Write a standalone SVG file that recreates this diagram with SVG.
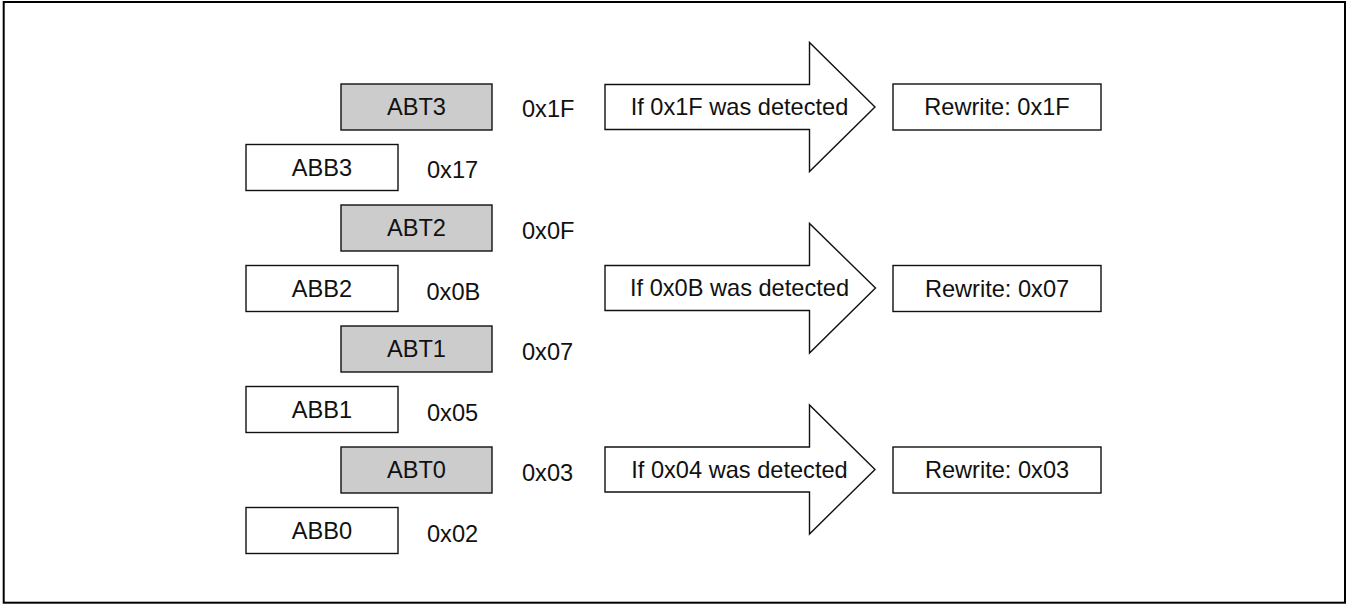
<svg xmlns="http://www.w3.org/2000/svg" width="1351" height="604" viewBox="0 0 1351 604">
<style>
  .t { font-family: "Liberation Sans", Arial, sans-serif; font-size: 23.6px; fill: #111; }
  .c { text-anchor: middle; }
  .box { fill: #ffffff; stroke: #111; stroke-width: 1.4; }
  .gbox { fill: #cccccc; stroke: #111; stroke-width: 1.4; }
  .arrow { fill: #ffffff; stroke: #111; stroke-width: 1.4; stroke-linejoin: miter; }
</style>
<rect x="3.7" y="2" width="1341.3" height="600.7" fill="#ffffff" stroke="#000" stroke-width="2"/>

<g id="ABT3"><rect class="gbox" x="341" y="84" width="151" height="46"/><text class="t c" x="416.5" y="115">ABT3</text></g>
<g id="ABB3"><rect class="box" x="246" y="144.5" width="152" height="46"/><text class="t c" x="322" y="175.5">ABB3</text></g>
<g id="ABT2"><rect class="gbox" x="341" y="205" width="151" height="46"/><text class="t c" x="416.5" y="236">ABT2</text></g>
<g id="ABB2"><rect class="box" x="246" y="265.5" width="152" height="46"/><text class="t c" x="322" y="296.5">ABB2</text></g>
<g id="ABT1"><rect class="gbox" x="341" y="326" width="151" height="46"/><text class="t c" x="416.5" y="357">ABT1</text></g>
<g id="ABB1"><rect class="box" x="246" y="386.5" width="152" height="46"/><text class="t c" x="322" y="417.5">ABB1</text></g>
<g id="ABT0"><rect class="gbox" x="341" y="447" width="151" height="46"/><text class="t c" x="416.5" y="478">ABT0</text></g>
<g id="ABB0"><rect class="box" x="246" y="507.5" width="152" height="46"/><text class="t c" x="322" y="538.5">ABB0</text></g>

<g id="values">
  <text class="t" x="522" y="117">0x1F</text>
  <text class="t" x="427" y="177.5">0x17</text>
  <text class="t" x="522" y="239">0x0F</text>
  <text class="t" x="426.5" y="299.5">0x0B</text>
  <text class="t" x="522" y="360">0x07</text>
  <text class="t" x="427" y="420.5">0x05</text>
  <text class="t" x="522" y="481">0x03</text>
  <text class="t" x="427" y="541.5">0x02</text>
</g>

<g id="connectors">
  <g id="arrow1"><path class="arrow" d="M605,84.5 H809.5 V42.5 L875,107 L809.5,171.5 V129.5 H605 Z"/><text class="t c" x="739.5" y="115">If 0x1F was detected</text></g>
  <g id="arrow2"><path class="arrow" d="M605,265.5 H809.5 V223.5 L875.5,288 L809.5,353 V310.5 H605 Z"/><text class="t c" x="739.5" y="296">If 0x0B was detected</text></g>
  <g id="arrow3"><path class="arrow" d="M605,447 H809.5 V405 L875,469.5 L809.5,534 V492 H605 Z"/><text class="t c" x="739.5" y="477.5">If 0x04 was detected</text></g>
</g>

<g id="R1"><rect class="box" x="893" y="84" width="208" height="46"/><text class="t c" x="997" y="115">Rewrite: 0x1F</text></g>
<g id="R2"><rect class="box" x="893" y="265.5" width="208" height="46"/><text class="t c" x="997" y="296.5">Rewrite: 0x07</text></g>
<g id="R3"><rect class="box" x="893" y="447" width="208" height="46"/><text class="t c" x="997" y="478">Rewrite: 0x03</text></g>
</svg>
